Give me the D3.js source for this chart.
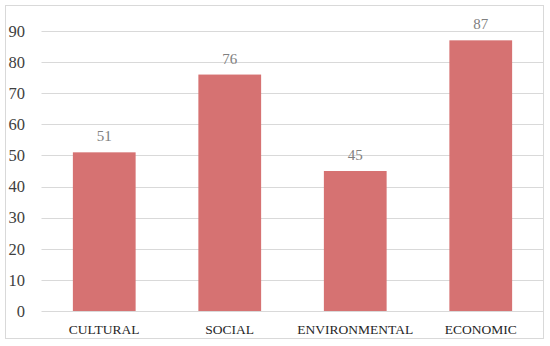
<!DOCTYPE html>
<html>
<head>
<meta charset="utf-8">
<script src="https://cdn.jsdelivr.net/npm/d3@7"></script>
<style>
body{margin:0;background:#fff;}
text{font-family:"Liberation Serif","Times New Roman","DejaVu Serif",serif;}
</style>
</head>
<body>
<div id="chart"></div>
<script>
// data
var categories=['CULTURAL','SOCIAL','ENVIRONMENTAL','ECONOMIC'];
var values=[51,76,45,87];
var yTicks=[0,10,20,30,40,50,60,70,80,90];

var W=550,H=346;
var m={top:31,right:6.5,bottom:35,left:41.5};

var svg=d3.select('#chart').append('svg').attr('width',W).attr('height',H);

// frame
svg.append('rect').attr('x',5.5).attr('y',5.5).attr('width',538).attr('height',333)
	.style('fill','#fff').style('stroke','#d9d9d9').style('stroke-width',1);

var x=d3.scaleBand().domain(categories).range([m.left,W-m.right]).padding(0);
var y=d3.scaleLinear().domain([0,90]).range([H-m.bottom,m.top]);

// grid
svg.append('g').selectAll('line').data(yTicks).enter().append('line')
	.attr('x1',m.left).attr('x2',W-m.right)
	.attr('y1',function(d){return Math.round(y(d))+0.5;})
	.attr('y2',function(d){return Math.round(y(d))+0.5;})
	.style('stroke','#d9d9d9').style('stroke-width',1);

// y labels
svg.append('g').selectAll('text').data(yTicks).enter().append('text')
	.attr('x',25).attr('y',function(d){return y(d);}).attr('dy','0.35em')
	.attr('text-anchor','end')
	.style('font-size','16.5px').style('fill','#404040')
	.text(function(d){return d;});

// bars
var bw=x.bandwidth()*0.5;
svg.append('g').selectAll('rect').data(values).enter().append('rect')
	.attr('x',function(d,i){return x(categories[i])+x.bandwidth()/2-bw/2;})
	.attr('y',function(d){return y(d);})
	.attr('width',bw)
	.attr('height',function(d){return y(0)-y(d);})
	.style('fill','#d67272');

// value labels
svg.append('g').selectAll('text').data(values).enter().append('text')
	.attr('x',function(d,i){return x(categories[i])+x.bandwidth()/2;})
	.attr('y',function(d){return y(d)-11;})
	.attr('text-anchor','middle')
	.style('font-size','15px').style('fill','#808080')
	.text(function(d){return d;});

// category labels
svg.append('g').selectAll('text').data(categories).enter().append('text')
	.attr('x',function(d){return x(d)+x.bandwidth()/2;})
	.attr('y',334)
	.attr('text-anchor','middle')
	.style('font-size','13.5px').style('fill','#262626')
	.text(function(d){return d;});
</script>
</body>
</html>
